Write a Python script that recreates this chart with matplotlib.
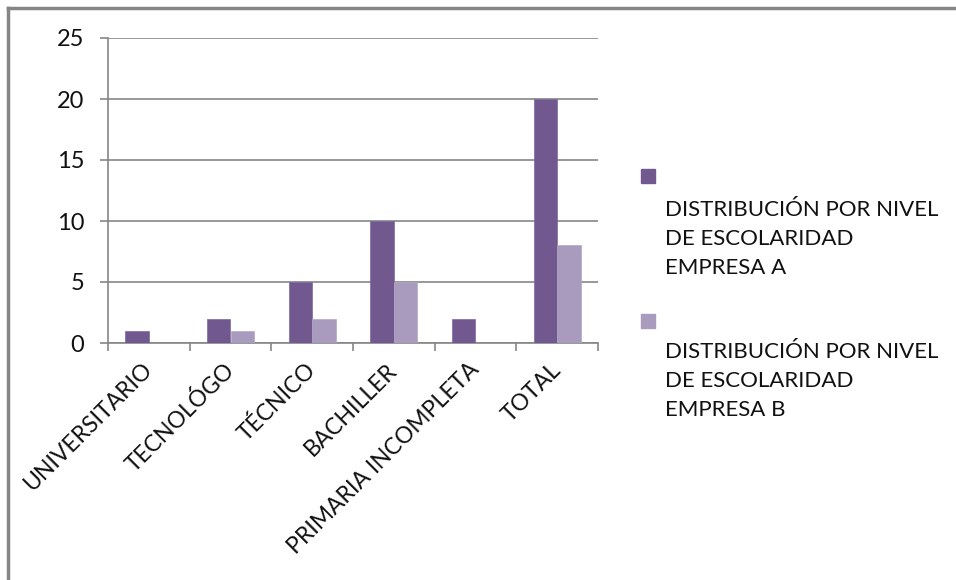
import matplotlib.pyplot as plt
import numpy as np
from matplotlib.patches import Rectangle
from matplotlib.lines import Line2D

plt.rcParams['font.family'] = ['Lato', 'DejaVu Sans']

niveles = ['UNIVERSITARIO', 'TECNOLÓGO', 'TÉCNICO', 'BACHILLER',
           'PRIMARIA INCOMPLETA', 'TOTAL']
empresa_a = [1, 2, 5, 10, 2, 20]
empresa_b = [0, 1, 2, 5, 0, 8]
serie_a = 'DISTRIBUCIÓN POR NIVEL\nDE ESCOLARIDAD\nEMPRESA A'
serie_b = 'DISTRIBUCIÓN POR NIVEL\nDE ESCOLARIDAD\nEMPRESA B'

color_a = '#71598f'
color_b = '#a99bbd'
gris = '#868686'
texto_color = '#111111'
fs = 16

W, H = 956, 580
fig = plt.figure(figsize=(W / 100, H / 100), dpi=100)
ax = fig.add_axes([108 / W, 1 - 343 / H, 490 / W, 305 / H])

x = np.arange(len(niveles)) + 0.5
w = 0.286
ax.bar(x - w / 2, empresa_a, w, color=color_a, edgecolor='#7d68a0', linewidth=0.5, zorder=3)
ax.bar(x + w / 2, empresa_b, w, color=color_b, edgecolor='#b3a7c5', linewidth=0.5, zorder=3)

ax.set_xlim(0, len(niveles))
ax.set_ylim(0, 25)
ax.set_yticks(range(0, 26, 5))
ax.yaxis.grid(True, color=gris, linewidth=1.2, zorder=0)
ax.set_axisbelow(True)

# ticks between categories, labels at the centres
ax.set_xticks(np.arange(len(niveles) + 1))
ax.set_xticklabels([])
ax.set_xticks(x, minor=True)
ax.set_xticklabels(niveles, minor=True, rotation=45, ha='right', va='center',
                   rotation_mode='anchor', fontsize=16.5, color=texto_color)
ax.tick_params(axis='x', which='major', length=6, width=1.2, color=gris)
ax.tick_params(axis='x', which='minor', length=0, pad=17)
ax.tick_params(axis='y', length=6, width=1.2, color=gris, labelsize=17,
               labelcolor=texto_color, pad=11)

for s in ['top', 'right']:
    ax.spines[s].set_visible(False)
for s in ['left', 'bottom']:
    ax.spines[s].set_color(gris)
    ax.spines[s].set_linewidth(1.2)

# legend: swatch on its own line, wrapped text underneath
for color, texto, ys, yt in [(color_a, serie_a, 169, 200), (color_b, serie_b, 314, 342)]:
    fig.patches.append(Rectangle((641 / W, 1 - (ys + 14) / H), 14 / W, 14 / H,
                                 transform=fig.transFigure, color=color))
    fig.text(665 / W, 1 - yt / H, texto, fontsize=fs, va='top', ha='left',
             linespacing=1.55, color=texto_color)

# chart frame edges
fig.add_artist(Line2D([8 / W, 8 / W], [0, 1 - 8 / H], color=gris, linewidth=2.5,
                      transform=fig.transFigure))
fig.add_artist(Line2D([8 / W, 1], [1 - 8 / H, 1 - 8 / H], color=gris, linewidth=2.5,
                      transform=fig.transFigure))

fig.savefig('out.png', dpi=100, facecolor='white')
